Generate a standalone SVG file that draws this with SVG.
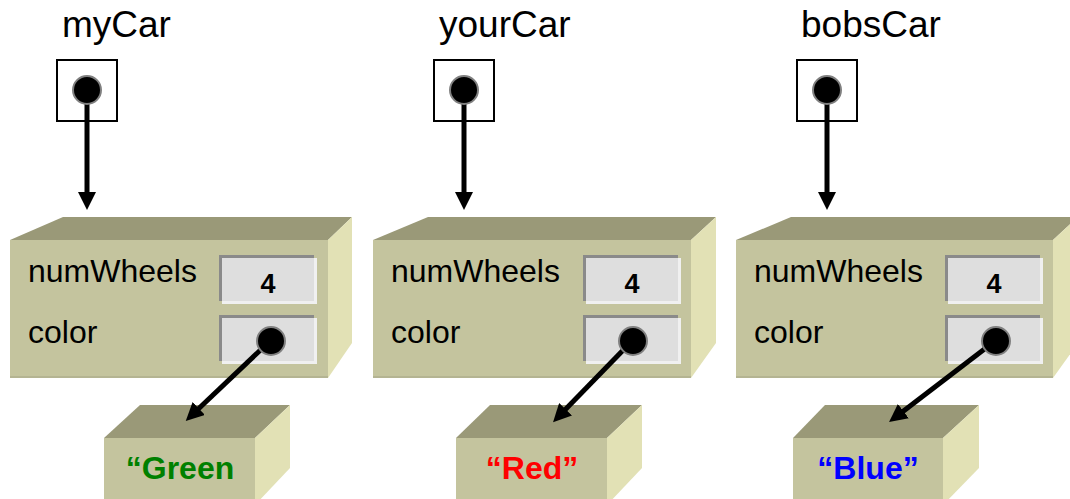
<svg xmlns="http://www.w3.org/2000/svg" width="1070" height="499" viewBox="0 0 1070 499">
<defs>
<style>
.lbl{font-family:"Liberation Sans",Arial,sans-serif;font-size:37px;fill:#000}
.fld{font-family:"Liberation Sans",Arial,sans-serif;font-size:32px;fill:#000}
.num{font-family:"Liberation Sans",Arial,sans-serif;font-size:27px;font-weight:bold;fill:#000;text-anchor:middle}
.str{font-family:"Liberation Sans",Arial,sans-serif;font-size:32px;font-weight:bold;text-anchor:middle}
.front{fill:#c4c49e}
.top{fill:#9a9978}
.side{fill:#e2e1b5}
.edge{fill:#b4b492}
.ptrbox{fill:#fff;stroke:#000;stroke-width:2}
.dot{fill:#000;stroke:#808080;stroke-width:2}
.conn{stroke:#000;stroke-width:5;fill:none;marker-end:url(#ah)}
.sdark{fill:#8a8a8a}
.slight{fill:#f0f0f0}
.sface{fill:#dedede}
</style>
<marker id="ah" markerUnits="userSpaceOnUse" markerWidth="20" markerHeight="18" refX="8" refY="9" orient="auto">
<path d="M0,0 L18,9 L0,18 z" fill="#000"/>
</marker>
<g id="slot">
<rect x="0" y="0" width="95" height="46" class="sdark"/>
<rect x="3" y="3" width="95" height="46" class="slight"/>
<rect x="3" y="3" width="92" height="43" class="sface"/>
</g>
</defs>

<!-- variable labels and pointer boxes -->
<g id="var-myCar">
<text x="62" y="37" class="lbl">myCar</text>
<rect x="57" y="60" width="60" height="61" class="ptrbox"/>
</g>
<g id="var-yourCar">
<text x="439" y="37" class="lbl">yourCar</text>
<rect x="434" y="60" width="60" height="61" class="ptrbox"/>
</g>
<g id="var-bobsCar">
<text x="801" y="37" class="lbl">bobsCar</text>
<rect x="797" y="60" width="60" height="61" class="ptrbox"/>
</g>

<!-- car objects -->
<g id="obj-myCar">
<polygon points="10,240 63,217 352,217 328,240" class="top"/>
<polygon points="328,240 352,217 352,343 328,378" class="side"/>
<rect x="10" y="240" width="318" height="138" class="front"/>
<rect x="10" y="376" width="318" height="2" class="edge"/>
<text x="28" y="282" class="fld">numWheels</text>
<text x="28" y="343" class="fld">color</text>
<use href="#slot" x="219" y="255"/>
<use href="#slot" x="219" y="315"/>
<text x="268" y="293" class="num">4</text>
</g>
<g id="obj-yourCar">
<polygon points="373,240 428,217 716,217 691,240" class="top"/>
<polygon points="691,240 716,217 716,343 691,378" class="side"/>
<rect x="373" y="240" width="318" height="138" class="front"/>
<rect x="373" y="376" width="318" height="2" class="edge"/>
<text x="391" y="282" class="fld">numWheels</text>
<text x="391" y="343" class="fld">color</text>
<use href="#slot" x="583" y="255"/>
<use href="#slot" x="583" y="315"/>
<text x="632" y="293" class="num">4</text>
</g>
<g id="obj-bobsCar">
<polygon points="736,240 791,217 1078,217 1053,240" class="top"/>
<polygon points="1053,240 1078,217 1078,343 1053,378" class="side"/>
<rect x="736" y="240" width="317" height="138" class="front"/>
<rect x="736" y="376" width="317" height="2" class="edge"/>
<text x="754" y="282" class="fld">numWheels</text>
<text x="754" y="343" class="fld">color</text>
<use href="#slot" x="945" y="255"/>
<use href="#slot" x="945" y="315"/>
<text x="994" y="293" class="num">4</text>
</g>

<!-- string objects -->
<g id="str-green">
<polygon points="104,438 140,405 290,405 255,438" class="top"/>
<polygon points="255,438 290,405 290,468 255,505" class="side"/>
<rect x="104" y="438" width="151" height="70" class="front"/>
<text x="180" y="479" class="str" fill="#008000">“Green</text>
</g>
<g id="str-red">
<polygon points="456,438 490,405 642,405 607,438" class="top"/>
<polygon points="607,438 642,405 642,468 607,505" class="side"/>
<rect x="456" y="438" width="151" height="70" class="front"/>
<text x="532" y="479" class="str" fill="#ff0000">“Red”</text>
</g>
<g id="str-blue">
<polygon points="793,438 825,405 979,405 943,438" class="top"/>
<polygon points="943,438 979,405 979,468 943,505" class="side"/>
<rect x="793" y="438" width="150" height="70" class="front"/>
<text x="868" y="479" class="str" fill="#0000ff">“Blue”</text>
</g>

<!-- connectors -->
<g id="connectors">
<line x1="87" y1="90" x2="87" y2="200" class="conn"/>
<line x1="464" y1="90" x2="464" y2="200" class="conn"/>
<line x1="827" y1="90" x2="827" y2="200" class="conn"/>
<line x1="270" y1="341" x2="193" y2="414" class="conn"/>
<line x1="632" y1="341" x2="560" y2="415" class="conn"/>
<line x1="995" y1="341" x2="897" y2="416" class="conn"/>
<circle cx="87" cy="90" r="14" class="dot"/>
<circle cx="464" cy="90" r="14" class="dot"/>
<circle cx="827" cy="90" r="14" class="dot"/>
<circle cx="271" cy="341" r="14" class="dot"/>
<circle cx="633" cy="341" r="14" class="dot"/>
<circle cx="996" cy="341" r="14" class="dot"/>
</g>
</svg>
